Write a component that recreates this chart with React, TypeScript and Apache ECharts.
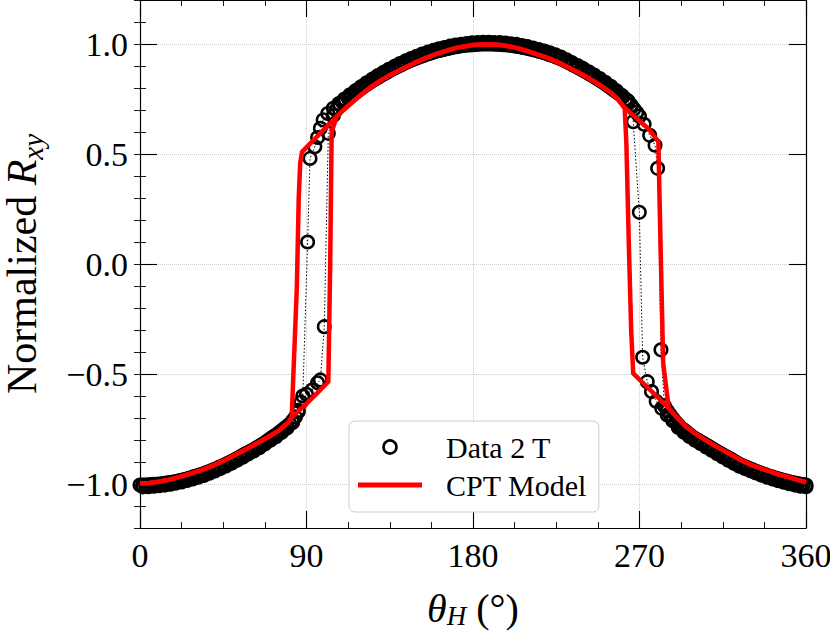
import React, { useEffect, useRef } from "react";
import * as echarts from "echarts";

// ---- tick values ----
const xTicks: number[] = [0, 90, 180, 270, 360];
const yTicks: number[] = [-1.0, -0.5, 0.0, 0.5, 1.0];

// ---- measured data, increasing field angle sweep ----
const dataUp: [number, number][] = [
  [0, -1.005], [1.5, -1.005], [3, -1.005], [4.5, -1.004], [6, -1.003], [7.5, -1.002], [9, -1.001],
  [10.5, -1.0], [12, -0.999], [13.5, -0.997], [15, -0.995], [16.5, -0.993], [18, -0.991], [19.5, -0.989],
  [21, -0.986], [22.5, -0.983], [24, -0.98], [25.5, -0.977], [27, -0.973], [28.5, -0.969], [30, -0.965],
  [31.5, -0.961], [33, -0.957], [34.5, -0.953], [36, -0.948], [37.5, -0.943], [39, -0.938], [40.5, -0.933],
  [42, -0.927], [43.5, -0.922], [45, -0.916], [46.5, -0.91], [48, -0.904], [49.5, -0.898], [51, -0.891],
  [52.5, -0.884], [54, -0.877], [55.5, -0.87], [57, -0.863], [58.5, -0.857], [60, -0.85], [61.5, -0.843],
  [63, -0.835], [64.5, -0.828], [66, -0.82], [67.5, -0.812], [69, -0.803], [70.5, -0.794], [72, -0.785],
  [73.5, -0.777], [75, -0.768], [76.5, -0.758], [78, -0.748], [79.5, -0.738], [81, -0.727], [82.5, -0.713],
  [84, -0.695], [85.5, -0.665], [87, -0.628], [90, -0.592], [93, -0.573], [96, -0.54], [97.5, -0.527],
  [99.6, -0.285], [101.8, 0.594], [104.5, 0.675], [106, 0.7], [108, 0.725], [109.5, 0.735], [111, 0.745],
  [112.5, 0.755], [114, 0.765], [115.5, 0.774], [117, 0.783], [118.5, 0.792], [120, 0.801], [121.5, 0.81],
  [123, 0.818], [124.5, 0.827], [126, 0.835], [127.5, 0.843], [129, 0.85], [130.5, 0.858], [132, 0.865],
  [133.5, 0.872], [135, 0.879], [136.5, 0.886], [138, 0.892], [139.5, 0.899], [141, 0.905], [142.5, 0.911],
  [144, 0.917], [145.5, 0.923], [147, 0.928], [148.5, 0.933], [150, 0.938], [151.5, 0.943], [153, 0.947],
  [154.5, 0.952], [156, 0.956], [157.5, 0.96], [159, 0.964], [160.5, 0.968], [162, 0.971], [163.5, 0.974],
  [165, 0.977], [166.5, 0.98], [168, 0.983], [169.5, 0.986], [171, 0.988], [172.5, 0.99], [174, 0.992],
  [175.5, 0.994], [177, 0.995], [178.5, 0.996], [180, 0.997], [181.5, 0.998], [183, 0.999], [184.5, 1.0],
  [186, 1.0], [187.5, 1.0], [189, 1.0], [190.5, 1.0], [192, 0.999], [193.5, 0.999], [195, 0.998],
  [196.5, 0.997], [198, 0.996], [199.5, 0.995], [201, 0.993], [202.5, 0.991], [204, 0.989], [205.5, 0.987],
  [207, 0.984], [208.5, 0.982], [210, 0.979], [211.5, 0.976], [213, 0.973], [214.5, 0.97], [216, 0.966],
  [217.5, 0.963], [219, 0.959], [220.5, 0.955], [222, 0.95], [223.5, 0.946], [225, 0.941], [226.5, 0.936],
  [228, 0.931], [229.5, 0.925], [231, 0.918], [232.5, 0.912], [234, 0.905], [235.5, 0.899], [237, 0.892],
  [238.5, 0.885], [240, 0.878], [241.5, 0.871], [243, 0.864], [244.5, 0.857], [246, 0.849], [247.5, 0.841],
  [249, 0.833], [250.5, 0.825], [252, 0.816], [253.5, 0.807], [255, 0.798], [256.5, 0.789], [258, 0.78],
  [259.5, 0.77], [261, 0.76], [262.5, 0.749], [264, 0.738], [265.5, 0.722], [267, 0.705], [268.5, 0.689],
  [270, 0.672], [272.5, 0.635], [275.5, 0.585], [278.4, 0.54], [279.8, 0.435], [281.6, -0.39],
  [283.5, -0.645], [285, -0.667], [286.5, -0.685], [288, -0.702], [289.5, -0.718], [291, -0.732],
  [292.5, -0.745], [294, -0.755], [295.5, -0.765], [297, -0.775], [298.5, -0.785], [300, -0.793],
  [301.5, -0.8], [303, -0.808], [304.5, -0.815], [306, -0.823], [307.5, -0.83], [309, -0.838],
  [310.5, -0.845], [312, -0.853], [313.5, -0.86], [315, -0.867], [316.5, -0.874], [318, -0.881],
  [319.5, -0.888], [321, -0.896], [322.5, -0.903], [324, -0.91], [325.5, -0.916], [327, -0.922],
  [328.5, -0.927], [330, -0.932], [331.5, -0.937], [333, -0.942], [334.5, -0.947], [336, -0.952],
  [337.5, -0.956], [339, -0.961], [340.5, -0.965], [342, -0.969], [343.5, -0.973], [345, -0.977],
  [346.5, -0.98], [348, -0.984], [349.5, -0.987], [351, -0.99], [352.5, -0.993], [354, -0.996],
  [355.5, -0.998], [357, -1.001], [358.5, -1.003], [360, -1.005],
];

// ---- measured data, decreasing field angle sweep ----
const dataDown: [number, number][] = [
  [360, -1.012], [357, -1.01], [354, -1.005], [351, -0.999], [348, -0.992], [345, -0.985], [342, -0.977],
  [339, -0.969], [336, -0.96], [333, -0.95], [330, -0.94], [327, -0.93], [324, -0.919], [321, -0.906],
  [318, -0.892], [315, -0.877], [312, -0.862], [309, -0.847], [306, -0.832], [303, -0.816], [300, -0.801],
  [297, -0.784], [294, -0.765], [291, -0.743], [288, -0.713], [285, -0.686], [282, -0.656], [279, -0.624],
  [276.5, -0.58], [274.2, -0.535], [271.7, -0.424], [269.9, 0.235], [266.6, 0.647], [263.5, 0.743],
  [260.5, 0.766], [257.5, 0.788], [254.5, 0.808], [251.5, 0.826], [248.5, 0.843], [245.5, 0.859],
  [242.5, 0.874], [239.5, 0.889], [236.5, 0.902], [233.5, 0.915], [230.5, 0.928], [227.5, 0.941],
  [224.5, 0.951], [221.5, 0.96], [218.5, 0.968], [215.5, 0.975], [212.5, 0.982], [209.5, 0.988],
  [206.5, 0.993], [203.5, 0.998], [200.5, 1.001], [197.5, 1.004], [194.5, 1.006], [191.5, 1.007],
  [188.5, 1.008], [185.5, 1.008], [182.5, 1.007], [179.5, 1.005], [176.5, 1.002], [173.5, 0.999],
  [170.5, 0.995], [167.5, 0.99], [164.5, 0.984], [161.5, 0.978], [158.5, 0.971], [155.5, 0.963],
  [152.5, 0.954], [149.5, 0.944], [146.5, 0.934], [143.5, 0.923], [140.5, 0.911], [137.5, 0.898],
  [134.5, 0.885], [131.5, 0.871], [128.5, 0.856], [125.5, 0.84], [122.5, 0.824], [119.5, 0.806],
  [116.5, 0.788], [113.5, 0.769], [110.5, 0.75], [107.5, 0.729], [104.5, 0.708], [101.5, 0.684],
  [99, 0.655], [97.5, 0.617], [96, 0.575], [94.5, 0.533], [91.9, 0.48], [90.6, 0.1], [88, -0.6],
  [85.5, -0.672], [82.5, -0.72], [79.5, -0.746], [76.5, -0.766], [73.5, -0.785], [70.5, -0.801],
  [67.5, -0.818], [64.5, -0.835], [61.5, -0.85], [58.5, -0.864], [55.5, -0.878], [52.5, -0.892],
  [49.5, -0.906], [46.5, -0.918], [43.5, -0.93], [40.5, -0.941], [37.5, -0.951], [34.5, -0.961],
  [31.5, -0.969], [28.5, -0.977], [25.5, -0.984], [22.5, -0.991], [19.5, -0.996], [16.5, -1.001],
  [13.5, -1.005], [10.5, -1.008], [7.5, -1.01], [4.5, -1.012], [1.5, -1.013],
];

// ---- CPT model pieces ----
const cptLowLeft: [number, number][] = [
  [0, -0.997], [5, -0.995], [10, -0.99], [15, -0.982], [20, -0.971], [25, -0.959], [30, -0.946],
  [35, -0.931], [40, -0.914], [45, -0.895], [50, -0.874], [55, -0.852], [60, -0.83], [65, -0.807],
  [70, -0.783], [75, -0.757], [80, -0.722], [82, -0.697],
];
const cptUpSwitchLeft: [number, number][] = [
  [90, -0.635], [96, -0.585], [101.8, -0.535], [102.8, 0.0], [103.6, 0.6],
];
const cptUpper: [number, number][] = [
  [106.3, 0.67], [110, 0.7], [115, 0.737], [120, 0.773], [125, 0.805], [130, 0.833], [135, 0.858],
  [140, 0.88], [145, 0.9], [150, 0.92], [155, 0.938], [160, 0.954], [165, 0.968], [170, 0.98],
  [175, 0.989], [180, 0.995], [185, 0.998], [190, 0.998], [195, 0.995], [200, 0.989], [205, 0.979],
  [210, 0.966], [215, 0.952], [220, 0.938], [225, 0.92], [230, 0.9], [235, 0.879], [240, 0.857],
  [245, 0.832], [250, 0.805], [255, 0.775], [258, 0.752], [262, 0.71],
];
const cptUpSwitchRight: [number, number][] = [
  [266, 0.68], [270, 0.65], [275, 0.614], [280.2, 0.556], [281.4, 0.08], [282.8, -0.45],
];
const cptLowRight: [number, number][] = [
  [285.8, -0.655], [290, -0.695], [295, -0.738], [300, -0.77], [305, -0.797], [310, -0.822],
  [315, -0.846], [320, -0.869], [325, -0.892], [330, -0.912], [335, -0.928], [340, -0.942],
  [345, -0.956], [350, -0.968], [355, -0.98], [360, -0.992],
];
const cptDownSwitchRight: [number, number][] = [
  [266.6, -0.497], [265.5, -0.3], [264.2, 0.1], [262.9, 0.55],
];
const cptDownSwitchLeft: [number, number][] = [
  [87.6, 0.51], [86.6, 0.46], [85.8, 0.3], [84.8, -0.1],
];

const FONT = '"Liberation Serif", "Times New Roman", serif';

const fmtY = (v: number) => (v < 0 ? "\u2212" : "") + Math.abs(v).toFixed(1);

export default function App() {
  const ref = useRef<HTMLDivElement>(null);

  useEffect(() => {
    if (!ref.current) return;
    const chart = echarts.init(ref.current, undefined, { renderer: "svg" });

    const cptUpPath = [...cptLowLeft, ...cptUpSwitchLeft, ...cptUpper, ...cptUpSwitchRight, ...cptLowRight];
    const cptDownPath = [
      ...[...cptLowRight].reverse(),
      ...cptDownSwitchRight,
      ...[...cptUpper].reverse(),
      ...cptDownSwitchLeft,
      ...[...cptLowLeft].reverse(),
    ];

    const axisLine = { show: true, onZero: false, lineStyle: { color: "#000", width: 1.2 } };
    const majorTick = { show: true, inside: true, length: 17, lineStyle: { color: "#000", width: 1.1 } };
    const minorTickStyle = { show: true, inside: true, length: 6, lineStyle: { color: "#000", width: 0.9 } };
    const gridLine = { show: true, lineStyle: { type: "dotted", color: "#cccccc", width: 1 } };

    const xBase = {
      type: "value",
      min: 0,
      max: 360,
      interval: 90,
      axisLine,
      axisTick: { ...majorTick, customValues: xTicks },
      minorTick: { show: true, splitNumber: 4, length: 6, lineStyle: { color: "#000", width: 0.9 } },
    };

    const yMajor = (position: string, labels: boolean) => ({
      type: "value",
      position,
      min: -1.2,
      max: 1.2,
      splitNumber: 5,
      axisLine,
      axisTick: { ...majorTick, customValues: yTicks },
      axisLabel: labels
        ? {
            show: true,
            customValues: yTicks,
            formatter: fmtY,
            fontSize: 34,
            fontFamily: FONT,
            color: "#000",
            margin: 12,
          }
        : { show: false },
      splitLine: labels ? gridLine : { show: false },
    });
    const yMinor = (position: string) => ({
      type: "value",
      position,
      min: -1.2,
      max: 1.2,
      interval: 0.1,
      axisLine: { show: false },
      axisTick: minorTickStyle,
      axisLabel: { show: false },
      splitLine: { show: false },
    });

    const yName = {
      ...yMajor("left", true),
      name: "{n|Normalized }{i|R}{s|xy}",
      nameLocation: "middle",
      nameGap: 93,
      nameTextStyle: {
        color: "#000",
        fontFamily: FONT,
        rich: {
          n: { fontSize: 42, fontFamily: FONT, color: "#000", lineHeight: 50, verticalAlign: "middle" },
          i: { fontSize: 42, fontFamily: FONT, color: "#000", fontStyle: "italic", lineHeight: 50, verticalAlign: "middle" },
          s: { fontSize: 29, fontFamily: FONT, color: "#000", fontStyle: "italic", lineHeight: 23, verticalAlign: "bottom" },
        },
      },
    };

    const dataStyle = {
      symbol: "circle",
      symbolSize: 12.5,
      showAllSymbol: true,
      itemStyle: { color: "rgba(0,0,0,0)", borderColor: "#000", borderWidth: 2.5 },
      lineStyle: { color: "#000", width: 1, type: [1.5, 2] },
      z: 2,
    };

    const option: any = {
      animation: false,
      backgroundColor: "#fff",
      grid: { left: 140, right: 24, top: 0, bottom: 103, containLabel: false, outerBoundsMode: "none" },
      legend: {
        orient: "vertical",
        left: 349,
        top: 421,
        padding: [10, 12, 11, 9],
        itemGap: 6,
        itemWidth: 64,
        itemHeight: 13,
        backgroundColor: "rgba(255,255,255,0.9)",
        borderColor: "#cccccc",
        borderWidth: 1,
        borderRadius: 6,
        selectedMode: false,
        textStyle: {
          fontSize: 30,
          fontFamily: FONT,
          color: "#000",
          lineHeight: 32,
          padding: [0, 0, 0, 19],
        },
        data: [
          { name: "Data 2 T", icon: "circle", itemStyle: { color: "rgba(0,0,0,0)", borderColor: "#000", borderWidth: 2.6 } },
          { name: "CPT Model", icon: "path://M0,0L64,0L64,5L0,5Z", itemStyle: { color: "#ff0000", borderWidth: 0 } },
        ],
      },
      xAxis: [
        {
          ...xBase,
          position: "bottom",
          axisLabel: { show: true, fontSize: 34, fontFamily: FONT, color: "#000", margin: 10 },
          splitLine: gridLine,
          name: "{i|\u03b8}{s|H}{n| (\u00b0)}",
          nameLocation: "middle",
          nameGap: 59,
          nameTextStyle: {
            color: "#000",
            fontFamily: FONT,
            rich: {
              i: { fontSize: 40, fontFamily: FONT, color: "#000", fontStyle: "italic", lineHeight: 42, verticalAlign: "middle" },
              s: { fontSize: 27, fontFamily: FONT, color: "#000", fontStyle: "italic", lineHeight: 18, verticalAlign: "bottom" },
              n: { fontSize: 40, fontFamily: FONT, color: "#000", lineHeight: 42, verticalAlign: "middle" },
            },
          },
        },
        {
          ...xBase,
          position: "top",
          axisLabel: { show: false },
          splitLine: { show: false },
        },
      ],
      yAxis: [yName, yMinor("left"), yMajor("right", false), yMinor("right")],
      series: [
        { name: "Data 2 T", type: "line", data: dataUp, xAxisIndex: 0, yAxisIndex: 0, ...dataStyle },
        { name: "Data 2 T", type: "line", data: dataDown, xAxisIndex: 0, yAxisIndex: 0, ...dataStyle },
        {
          name: "CPT Model",
          type: "line",
          data: cptUpPath,
          xAxisIndex: 0,
          yAxisIndex: 0,
          symbol: "none",
          showSymbol: false,
          lineStyle: { color: "#ff0000", width: 4.5, join: "round" },
          itemStyle: { color: "#ff0000" },
          z: 3,
        },
        {
          name: "CPT Model",
          type: "line",
          data: cptDownPath,
          xAxisIndex: 0,
          yAxisIndex: 0,
          symbol: "none",
          showSymbol: false,
          lineStyle: { color: "#ff0000", width: 4.5, join: "round" },
          itemStyle: { color: "#ff0000" },
          z: 3,
        },
      ],
    };

    chart.setOption(option);
    return () => chart.dispose();
  }, []);

  return (
    <div
      ref={ref}
      style={{ position: "fixed", left: 0, top: 0, width: 830, height: 631, background: "#fff" }}
    />
  );
}
